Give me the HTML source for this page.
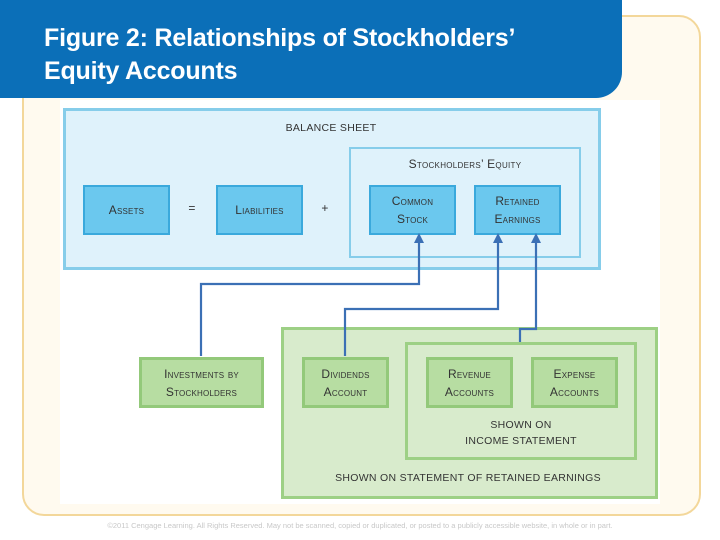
<!DOCTYPE html>
<html><head><meta charset="utf-8"><style>
body{margin:0;width:720px;height:540px;position:relative;background:#fff;overflow:hidden;font-family:"Liberation Sans",sans-serif}
.a{position:absolute;box-sizing:border-box}
.hdr{left:0;top:0;width:622px;height:98px;background:#0b6fb8;border-bottom-right-radius:26px;color:#fff;font-weight:bold;font-size:25px;line-height:33px;padding:22px 0 0 44px;letter-spacing:-0.2px}
.frame{left:22px;top:15px;width:679px;height:501px;border:2px solid #f3d79a;border-radius:22px;background:#fffaef}
.white{left:60px;top:100px;width:600px;height:404px;background:#fff}
.bb{background:#dff2fb;border:3px solid #86cdea}
.bx{background:#6bc8ee;border:2px solid #3aa9dc;display:flex;align-items:center;justify-content:center;text-align:center}
.gb{background:#d8ebcc;border:3px solid #9dd085}
.gx{background:#b7dda2;border:3px solid #93c97a;display:flex;align-items:center;justify-content:center;text-align:center}
.t{font-size:12px;color:#333;font-variant:small-caps;line-height:18px;letter-spacing:0.2px}
.lbl{position:absolute;font-size:10.5px;color:#333;text-align:center;line-height:16px;letter-spacing:0.3px}
</style></head><body>
<div class="a frame"></div>
<div class="a white"></div>
<div class="a hdr">Figure 2: Relationships of Stockholders’<br>Equity Accounts</div>

<div class="a bb" style="left:63px;top:108px;width:538px;height:162px"></div>
<div class="lbl" style="left:231px;top:120px;width:200px">BALANCE SHEET</div>
<div class="a bb" style="left:349px;top:147px;width:232px;height:111px;border-width:2px"></div>
<div class="lbl t" style="left:365px;top:156px;width:200px;font-size:12px">Stockholders’ Equity</div>
<div class="a bx t" style="left:83px;top:185px;width:87px;height:50px">Assets</div>
<div class="lbl" style="left:182px;top:200px;width:20px;font-size:12px">=</div>
<div class="a bx t" style="left:216px;top:185px;width:87px;height:50px">Liabilities</div>
<div class="lbl" style="left:315px;top:200px;width:20px;font-size:12px">+</div>
<div class="a bx t" style="left:369px;top:185px;width:87px;height:50px">Common<br>Stock</div>
<div class="a bx t" style="left:474px;top:185px;width:87px;height:50px">Retained<br>Earnings</div>

<div class="a gb" style="left:281px;top:327px;width:377px;height:172px"></div>
<div class="a gb" style="left:405px;top:342px;width:232px;height:118px"></div>
<div class="a gx t" style="left:139px;top:357px;width:125px;height:51px">Investments by<br>Stockholders</div>
<div class="a gx t" style="left:302px;top:357px;width:87px;height:51px">Dividends<br>Account</div>
<div class="a gx t" style="left:426px;top:357px;width:87px;height:51px">Revenue<br>Accounts</div>
<div class="a gx t" style="left:531px;top:357px;width:87px;height:51px">Expense<br>Accounts</div>
<div class="lbl" style="left:421px;top:417px;width:200px">SHOWN ON<br>INCOME STATEMENT</div>
<div class="lbl" style="left:318px;top:470px;width:300px">SHOWN ON STATEMENT OF RETAINED EARNINGS</div>

<svg class="a" style="left:0;top:0" width="720" height="540">
<g fill="none" stroke="#3b70b5" stroke-width="2.2">
<polyline points="201,356 201,284 419,284 419,240"/>
<polyline points="345,356 345,309 498,309 498,240"/>
<polyline points="520,342 520,329 536,329 536,240"/>
</g>
<g fill="#3b70b5">
<polygon points="419,233 414,243 424,243"/>
<polygon points="498,233 493,243 503,243"/>
<polygon points="536,233 531,243 541,243"/>
</g>
</svg>
<div class="lbl" style="left:60px;top:518px;width:600px;font-size:7.5px;color:#c8c8c8;letter-spacing:0">©2011 Cengage Learning. All Rights Reserved. May not be scanned, copied or duplicated, or posted to a publicly accessible website, in whole or in part.</div>
</body></html>
